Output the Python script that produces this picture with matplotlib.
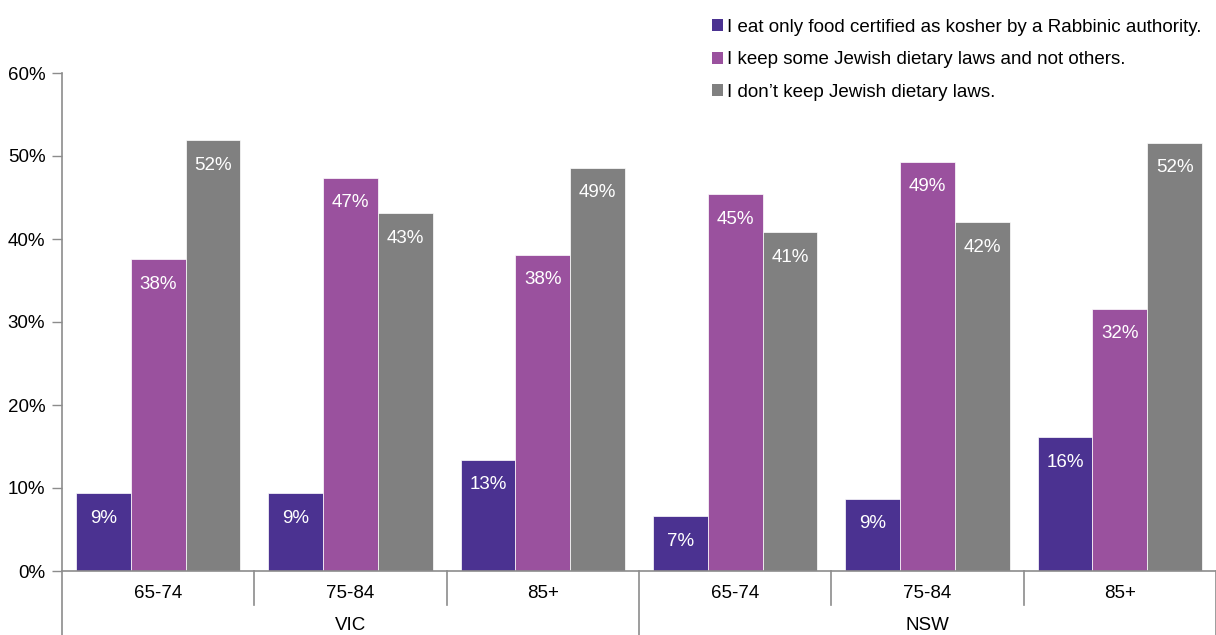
import numpy as np
import matplotlib.pyplot as plt
from matplotlib.patches import Patch
from matplotlib.transforms import blended_transform_factory

plt.rcParams['font.family'] = ['Liberation Sans', 'DejaVu Sans']

states = ['VIC', 'NSW']
ages = ['65-74', '75-84', '85+']
series = ['I eat only food certified as kosher by a Rabbinic authority.',
          'I keep some Jewish dietary laws and not others.',
          'I don\u2019t keep Jewish dietary laws.']
kosher = [9.4, 9.4, 13.4, 6.6, 8.7, 16.1]
some_laws = [37.6, 47.4, 38.1, 45.4, 49.3, 31.6]
no_laws = [51.9, 43.1, 48.6, 40.8, 42.0, 51.6]
values = [kosher, some_laws, no_laws]
colors = ['#4b3291', '#9a519e', '#808080']

fig = plt.figure(figsize=(12.16, 6.35), dpi=100)
ax = fig.add_axes([62/1216, 64/635, 1154/1216, 498/635])

n = len(states) * len(ages)
x = np.arange(n)
w = 0.285
for k, (vals, c) in enumerate(zip(values, colors)):
    pos = x + (k - 1) * w
    ax.bar(pos, vals, width=w, color=c, edgecolor='white', linewidth=0.5, zorder=2)
    for p, v in zip(pos, vals):
        ax.text(p, v - 2.0, f'{v:.0f}%', ha='center', va='top', color='white', fontsize=13.5)

ax.set_xlim(-0.5, n - 0.5)
ax.set_ylim(0, 60)
ax.set_yticks(np.arange(0, 61, 10))
ax.set_yticklabels([f'{t}%' for t in range(0, 61, 10)], fontsize=13.5)
ax.tick_params(axis='y', length=7, width=1, color='#8c8c8c', pad=5)
ax.set_xticks([])
for s in ['top', 'right']:
    ax.spines[s].set_visible(False)
for s in ['left', 'bottom']:
    ax.spines[s].set_color('#8c8c8c')
    ax.spines[s].set_linewidth(1.2)

# category axis: age labels and state labels
tr = blended_transform_factory(ax.transData, fig.transFigure)
for i in range(n):
    ax.text(i, 42/635, ages[i % len(ages)], transform=tr, ha='center', va='center', fontsize=13.5)
for j, st in enumerate(states):
    ax.text(j * 3 + 1, 9/635, st, transform=tr, ha='center', va='center', fontsize=13.5)
for i in range(1, n + 1):
    bottom = 0 if i % 3 == 0 else 30/635
    ax.plot([i - 0.5, i - 0.5], [64/635, bottom], transform=tr, color='#8c8c8c',
            linewidth=1.2, clip_on=False)
ax.plot([-0.5, -0.5], [64/635, 0], transform=tr, color='#8c8c8c', linewidth=1.2, clip_on=False)

handles = [Patch(facecolor=c, edgecolor='none') for c in colors]
fig.legend(handles, series, loc='upper left', bbox_to_anchor=(712/1216, 1 - 19/635),
           frameon=False, fontsize=13.5, handlelength=0.6, handleheight=0.6,
           handletextpad=0.2, labelspacing=0.82, borderpad=0, borderaxespad=0)

fig.savefig('out.png', dpi=100)
